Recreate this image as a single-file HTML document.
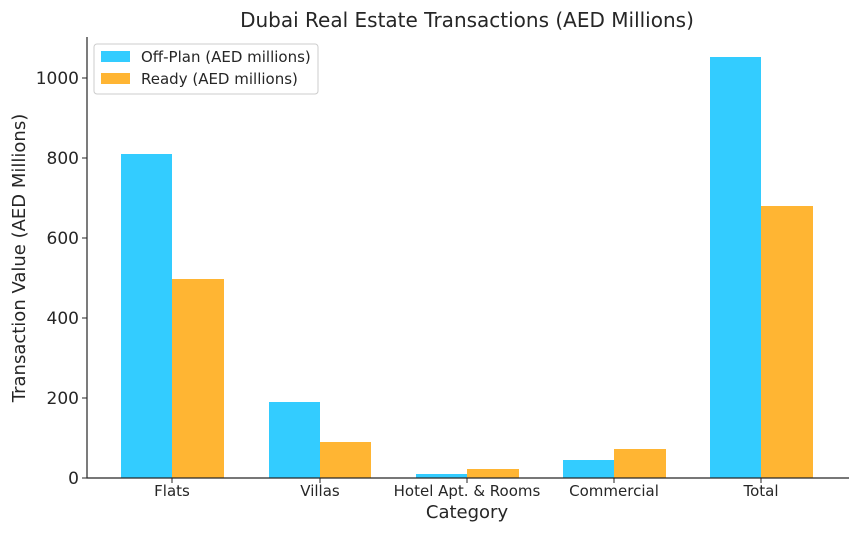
<!DOCTYPE html>
<html><head><meta charset="utf-8"><style>body{margin:0;background:#fff}svg{display:block}text{font-family:"DejaVu Sans","Liberation Sans",sans-serif;fill:#262626}</style></head>
<body>
<svg width="859" height="533" xmlns="http://www.w3.org/2000/svg">
<text x="467" y="27" font-size="20" text-anchor="middle">Dubai Real Estate Transactions (AED Millions)</text>
<g fill="#33ccff">
<rect x="121" y="154" width="51" height="324"/>
<rect x="269" y="402" width="51" height="76"/>
<rect x="416" y="474" width="51" height="4"/>
<rect x="563" y="460" width="51" height="18"/>
<rect x="710" y="57" width="51" height="421"/>
</g>
<g fill="#ffb533">
<rect x="172" y="279" width="52" height="199"/>
<rect x="320" y="442" width="51" height="36"/>
<rect x="467" y="469" width="52" height="9"/>
<rect x="614" y="449" width="52" height="29"/>
<rect x="761" y="206" width="52" height="272"/>
</g>
<path d="M87 37V478H849" fill="none" stroke="#262626" stroke-width="1.2"/>
<g stroke="#262626" stroke-width="1">
<line x1="82" y1="478" x2="87" y2="478"/><line x1="82" y1="398" x2="87" y2="398"/>
<line x1="82" y1="318" x2="87" y2="318"/><line x1="82" y1="238" x2="87" y2="238"/>
<line x1="82" y1="158" x2="87" y2="158"/><line x1="82" y1="78" x2="87" y2="78"/>
<line x1="172" y1="478" x2="172" y2="483"/><line x1="320" y1="478" x2="320" y2="483"/>
<line x1="467" y1="478" x2="467" y2="483"/><line x1="614" y1="478" x2="614" y2="483"/>
<line x1="761" y1="478" x2="761" y2="483"/>
</g>
<g font-size="17" text-anchor="end">
<text x="79" y="484">0</text><text x="79" y="404">200</text><text x="79" y="324">400</text>
<text x="79" y="244">600</text><text x="79" y="164">800</text><text x="79" y="84">1000</text>
</g>
<g font-size="15" text-anchor="middle">
<text x="172" y="496">Flats</text><text x="320" y="496">Villas</text>
<text x="467" y="496">Hotel Apt. &amp; Rooms</text><text x="614" y="496">Commercial</text>
<text x="761" y="496">Total</text>
</g>
<text x="467" y="518" font-size="18" text-anchor="middle">Category</text>
<text transform="translate(25,258) rotate(-90)" font-size="18" text-anchor="middle">Transaction Value (AED Millions)</text>
<rect x="94" y="44" width="224" height="50" rx="3" fill="#fff" stroke="#ccc"/>
<rect x="101" y="51" width="29" height="11" fill="#33ccff"/>
<rect x="101" y="73" width="29" height="11" fill="#ffb533"/>
<text x="141" y="62" font-size="15">Off-Plan (AED millions)</text>
<text x="141" y="84" font-size="15">Ready (AED millions)</text>
</svg>
</body></html>
